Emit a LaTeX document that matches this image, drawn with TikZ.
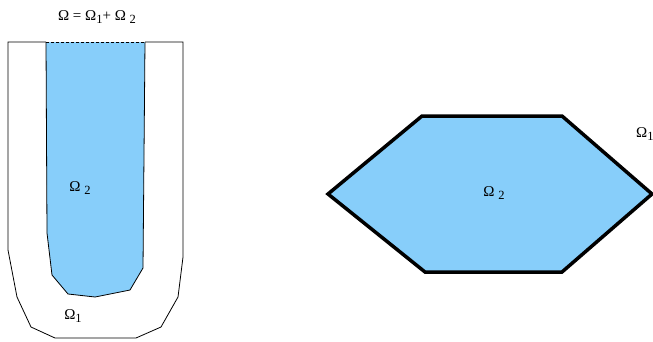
\documentclass[tikz,border=0pt]{standalone}
\usepackage{fontspec}
\setmainfont{Liberation Serif}
\definecolor{skyfill}{RGB}{135,206,250}
\usepackage{tikz}
\usetikzlibrary{positioning}
\newcommand{\lowsub}[1]{\raisebox{-0.5ex}{\fontsize{12.5}{13}\selectfont #1}}

\begin{document}
\begin{tikzpicture}[x=1pt,y=-1pt,
  outer/.style={draw=black,line width=0.8pt,line join=miter},
  region/.style={fill=skyfill,draw=black,line width=0.8pt},
  hexa/.style={fill=skyfill,draw=black,line width=3.5pt,line join=miter},
  topcut/.style={draw=black,line width=0.8pt,dash pattern=on 3pt off 2pt},
  lbl/.style={inner sep=0pt,font=\fontsize{15}{17}\selectfont}]
  \useasboundingbox (0,0) rectangle (653,341);

  % U-shaped domain, left
  \fill[region,draw=none] (46,42) -- (47,233) -- (52,275) -- (68,294) -- (95,297)
    -- (130,290) -- (143,268) -- (145,42) -- cycle;
  \draw[region,fill=none] (46,42) -- (47,233) -- (52,275) -- (68,294) -- (95,297)
    -- (130,290) -- (143,268) -- (145,42);
  \draw[outer] (46,42) -- (8,42) -- (8,250) -- (17,297) -- (31,327) -- (55,338)
    -- (136,338) -- (161,327) -- (178,297) -- (183,257) -- (183,42) -- (145,42);
  \draw[topcut] (46,42) -- (145,42);

  % hexagon, right
  \draw[hexa] (328,194) -- (422,116) -- (562,116) -- (652,194) -- (562,272)
    -- (425,272) -- cycle;

  \node[lbl] (omega) at (97,17) {Ω = Ω\lowsub{1}+ Ω \lowsub{2}};
  \node[lbl] (inner2) at (80,188) {Ω \lowsub{2}};
  \node[lbl] (outer1) at (73,316) {Ω\lowsub{1}};
  \node[lbl] (hex2) at (494,193) {Ω \lowsub{2}};
  \node[lbl,anchor=west] (hex1) at (636,134) {Ω\lowsub{1}};
\end{tikzpicture}
\end{document}
